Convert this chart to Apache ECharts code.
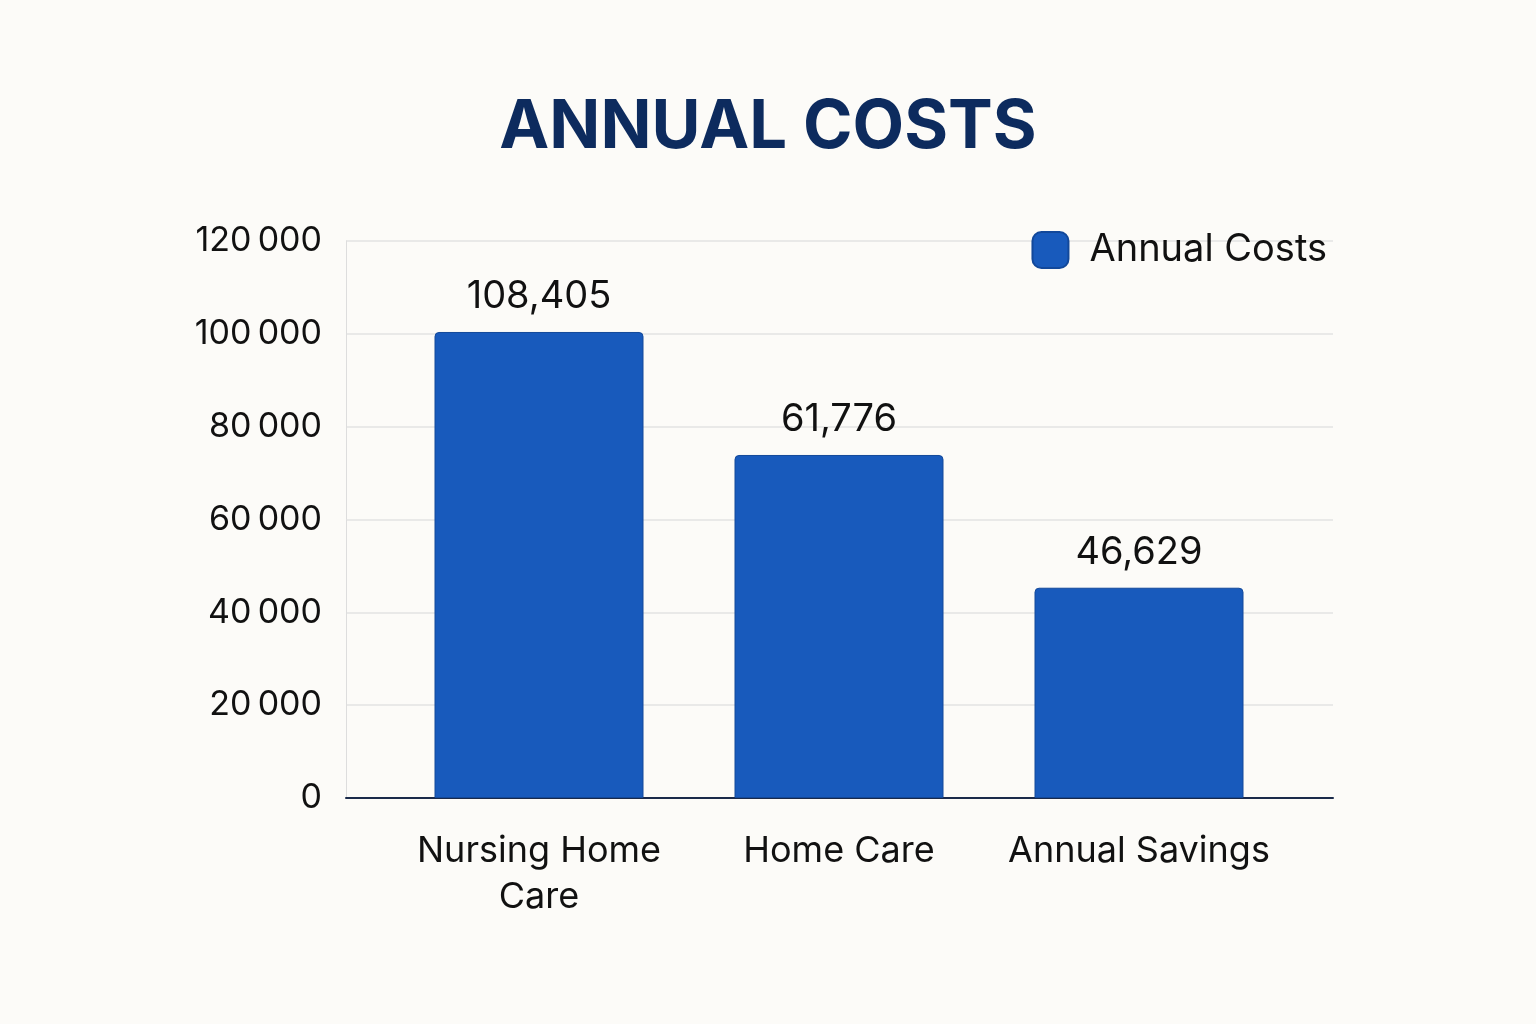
<!DOCTYPE html>
<html><head><meta charset="utf-8">
<script src="https://cdn.jsdelivr.net/npm/echarts@6/dist/echarts.min.js"></script>
<style>html,body{margin:0;background:#fcfbf8}#c{width:1536px;height:1024px}</style>
</head><body><div id="c"></div>
<script>
const categories = ["Nursing Home\nCare", "Home Care", "Annual Savings"];
const barValues = [100400, 73900, 45300];
const barLabels = ["108,405", "61,776", "46,629"];
const yTicks = [0, 20000, 40000, 60000, 80000, 100000, 120000];

const chart = echarts.init(document.getElementById('c'));
chart.setOption({
  backgroundColor: '#fcfbf8',
  textStyle: { fontFamily: 'Inter, Roboto, sans-serif' },
  title: { text: 'ANNUAL COSTS', left: 'center', top: 89,
    textStyle: { fontSize: 67, fontWeight: 'bold', color: '#0d2b5e', fontFamily: 'Inter, sans-serif' } },
  legend: { top: 226, right: 204, itemWidth: 36, itemHeight: 36, itemGap: 10,
    textStyle: { fontSize: 38, color: '#111', padding: [0, 0, 0, 16] },
    data: [{ name: 'Annual Costs', icon: 'roundRect' }] },
  grid: [
    { left: 346, right: 203, top: 241, bottom: 226 },
    { left: 389, right: 247, top: 241, bottom: 226 }
  ],
  xAxis: [
    { type: 'category', gridIndex: 0, data: categories,
      axisLine: { lineStyle: { color: '#1a2a4a', width: 2 } }, axisTick: { show: false },
      axisLabel: { show: false } },
    { type: 'category', gridIndex: 1, data: categories,
      axisLine: { show: false }, axisTick: { show: false },
      axisLabel: { fontSize: 36, color: '#111', margin: 30, lineHeight: 46, interval: 0 } }
  ],
  yAxis: [
    { type: 'value', gridIndex: 0, min: 0, max: 120000, interval: 20000,
      axisLine: { show: true, lineStyle: { color: '#ddd' } },
      splitLine: { lineStyle: { color: '#e3e3e3', width: 1.5 } },
      axisLabel: { fontSize: 34, color: '#111', margin: 24,
        formatter: v => String(v).replace(/\B(?=(\d{3})+(?!\d))/g, '\u2009') } },
    { type: 'value', gridIndex: 1, min: 0, max: 120000, interval: 20000, show: false,
      splitLine: { show: false } }
  ],
  series: [{ name: 'Annual Costs', type: 'bar', xAxisIndex: 1, yAxisIndex: 1, data: barValues, barWidth: 209,
    itemStyle: { color: '#185abc', borderRadius: [4, 4, 0, 0], borderColor: '#12489a', borderWidth: 1 },
    label: { show: true, position: 'top', distance: 16, fontSize: 38, color: '#111',
      formatter: p => barLabels[p.dataIndex] } }]
});
</script></body></html>
